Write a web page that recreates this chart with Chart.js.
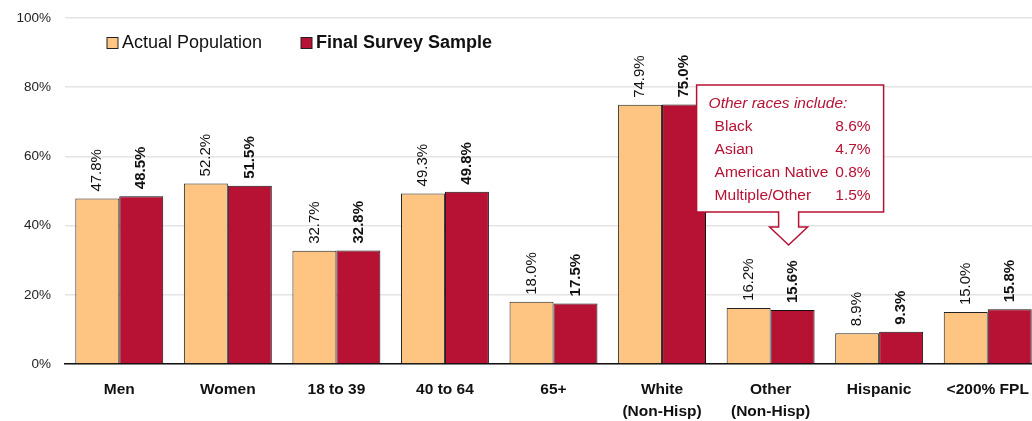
<!DOCTYPE html>
<html>
<head>
<meta charset="utf-8">
<script src="https://cdn.jsdelivr.net/npm/chart.js@4.4.0/dist/chart.umd.min.js"></script>
<style>
  html, body { margin: 0; padding: 0; background: #fff; overflow: hidden; }
  #wrap { position: relative; width: 1042px; height: 421px; }
</style>
</head>
<body>
<div id="wrap"><canvas id="chart"></canvas></div>
<script>
// Data
const categories = ['Men', 'Women', '18 to 39', '40 to 64', '65+', ['White', '(Non-Hisp)'], ['Other', '(Non-Hisp)'], 'Hispanic', '<200% FPL'];
const actualPopulation = [47.8, 52.2, 32.7, 49.3, 18.0, 74.9, 16.2, 8.9, 15.0];
const finalSample = [48.5, 51.5, 32.8, 49.8, 17.5, 75.0, 15.6, 9.3, 15.8];
const yTicks = [0, 20, 40, 60, 80, 100];
const otherRaces = ['Black', 'Asian', 'American Native', 'Multiple/Other'];
const otherRaceShares = ['8.6%', '4.7%', '0.8%', '1.5%'];

const ORANGE = '#FDC581';
const RED = '#B71234';
const FONT = 'Arial, "Liberation Sans", sans-serif';

// Etichete rotite deasupra barelor
const barLabels = {
    id: 'barLabels',
    afterDatasetsDraw(chart) {
        const ctx = chart.ctx;
        chart.data.datasets.forEach((ds, di) => {
            const meta = chart.getDatasetMeta(di);
            meta.data.forEach((bar, i) => {
                ctx.save();
                ctx.translate(bar.x, bar.y - 7);
                ctx.rotate(-Math.PI / 2);
                ctx.font = (di === 1 ? 'bold ' : '') + '15px ' + FONT;
                ctx.fillStyle = '#111';
                ctx.textAlign = 'left';
                ctx.textBaseline = 'middle';
                ctx.fillText(ds.data[i].toFixed(1) + '%', 0, 0);
                ctx.restore();
            });
        });
    }
};

// Legenda custom (al doilea element e bold)
const topLegend = {
    id: 'topLegend',
    afterDraw(chart) {
        const ctx = chart.ctx;
        const items = [
            { x: 107, color: ORANGE, text: 'Actual Population', bold: false },
            { x: 301, color: RED, text: 'Final Survey Sample', bold: true }
        ];
        ctx.save();
        items.forEach(it => {
            ctx.fillStyle = it.color;
            ctx.strokeStyle = '#222';
            ctx.lineWidth = 1;
            ctx.fillRect(it.x, 37.5, 11, 11);
            ctx.strokeRect(it.x, 37.5, 11, 11);
            ctx.fillStyle = '#111';
            ctx.font = (it.bold ? 'bold ' : '') + '18px ' + FONT;
            ctx.textBaseline = 'middle';
            ctx.textAlign = 'left';
            ctx.fillText(it.text, it.x + 15, 43.5);
        });
        ctx.restore();
    }
};

// Caseta cu sageata pentru "Other races"
const callout = {
    id: 'callout',
    afterDraw(chart) {
        const ctx = chart.ctx;
        const xs = chart.scales.x;
        const tipX = xs.getPixelForValue(6) + 18;
        const left = tipX - 92, right = tipX + 95;
        const top = 85, bottom = 212;
        const headY = 227, tipY = 245;
        ctx.save();
        ctx.beginPath();
        ctx.moveTo(left, top);
        ctx.lineTo(right, top);
        ctx.lineTo(right, bottom);
        ctx.lineTo(tipX + 10, bottom);
        ctx.lineTo(tipX + 10, headY);
        ctx.lineTo(tipX + 19, headY);
        ctx.lineTo(tipX, tipY);
        ctx.lineTo(tipX - 19, headY);
        ctx.lineTo(tipX - 10, headY);
        ctx.lineTo(tipX - 10, bottom);
        ctx.lineTo(left, bottom);
        ctx.closePath();
        ctx.fillStyle = '#fff';
        ctx.fill();
        ctx.strokeStyle = RED;
        ctx.lineWidth = 1.5;
        ctx.stroke();

        ctx.fillStyle = RED;
        ctx.textBaseline = 'middle';
        ctx.font = 'italic 15.5px ' + FONT;
        ctx.textAlign = 'left';
        ctx.fillText('Other races include:', left + 12, 104);
        ctx.font = '15.5px ' + FONT;
        otherRaces.forEach((name, i) => {
            const y = 127 + i * 23;
            ctx.textAlign = 'left';
            ctx.fillText(name, left + 18, y);
            ctx.textAlign = 'right';
            ctx.fillText(otherRaceShares[i], right - 13, y);
        });
        ctx.restore();
    }
};

new Chart(document.getElementById('chart'), {
    type: 'bar',
    data: {
        labels: categories,
        datasets: [
            {
                label: 'Actual Population',
                data: actualPopulation,
                backgroundColor: ORANGE,
                borderColor: '#222',
                borderWidth: 1,
                categoryPercentage: 0.81,
                barPercentage: 1
            },
            {
                label: 'Final Survey Sample',
                data: finalSample,
                backgroundColor: RED,
                borderColor: '#111',
                borderWidth: 1,
                categoryPercentage: 0.81,
                barPercentage: 1
            }
        ]
    },
    options: {
        responsive: true,
        maintainAspectRatio: false,
        animation: false,
        layout: { padding: { top: 18, right: 0, left: 0, bottom: 0 } },
        plugins: {
            legend: { display: false },
            tooltip: { enabled: false }
        },
        scales: {
            x: {
                grid: { display: false, drawTicks: false },
                border: { color: '#111', width: 1.5 },
                ticks: {
                    color: '#111',
                    padding: 15,
                    font: { family: FONT, size: 15.5, weight: 'bold', lineHeight: 1.4 },
                    maxRotation: 0,
                    autoSkip: false
                },
                afterFit(scale) {
                    scale.height = 57;
                    scale.paddingLeft = 0;
                    scale.paddingRight = 0;
                }
            },
            y: {
                min: 0,
                max: 100,
                afterBuildTicks(scale) { scale.ticks = yTicks.map(v => ({ value: v })); },
                grid: { color: '#e4e4e4', lineWidth: 1.5, drawTicks: false },
                border: { display: false },
                ticks: {
                    color: '#222',
                    padding: 14,
                    font: { family: FONT, size: 13.5 },
                    callback: v => v + '%'
                },
                afterFit(scale) {
                    scale.width = 65;
                    scale.paddingTop = 0;
                    scale.paddingBottom = 0;
                }
            }
        }
    },
    plugins: [barLabels, topLegend, callout]
});
</script>
</body>
</html>
